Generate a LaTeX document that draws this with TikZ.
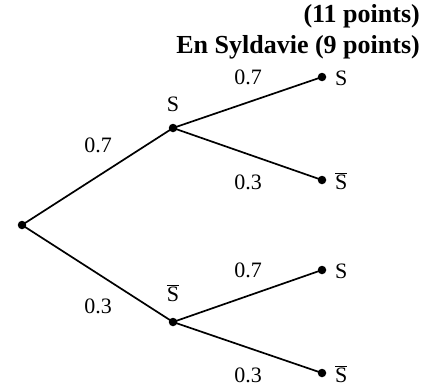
\documentclass[tikz,border=0pt]{standalone}
\usepackage{fontspec}
\setmainfont{Liberation Serif}
\begin{document}
\begin{tikzpicture}[x=1pt,y=-1pt,
  dot/.style={circle,fill=black,inner sep=0pt,minimum size=8.5pt},
  lbl/.style={font=\fontsize{22}{25}\selectfont,inner sep=0pt},
  ttl/.style={font=\fontsize{26}{29}\selectfont\bfseries,inner sep=0pt,anchor=east},
  edge/.style={line width=1.7pt}]
\useasboundingbox (0,0) rectangle (430,388);
\node[ttl] (t1) at (420,16) {(11 points)};
\node[ttl] (t2) at (420,47) {En Syldavie (9 points)};
\node[dot] (r) at (22,225) {};
\node[dot] (a) at (173,128) {};
\node[dot] (b) at (173,322) {};
\node[dot] (a1) at (322,77) {};
\node[dot] (a2) at (322,180) {};
\node[dot] (b1) at (322,270) {};
\node[dot] (b2) at (322,373) {};
\draw[edge] (r.center) -- (a.center);
\draw[edge] (r.center) -- (b.center);
\draw[edge] (a.center) -- (a1.center);
\draw[edge] (a.center) -- (a2.center);
\draw[edge] (b.center) -- (b1.center);
\draw[edge] (b.center) -- (b2.center);
\node[lbl] (la) at (173,104) {S};
\node[lbl] (lb) at (173,293) {$\overline{\mbox{S}}$};
\node[lbl,anchor=west] (la1) at (335,78) {S};
\node[lbl,anchor=west] (la2) at (335,181) {$\overline{\mbox{S}}$};
\node[lbl,anchor=west] (lb1) at (335,271) {S};
\node[lbl,anchor=west] (lb2) at (335,374) {$\overline{\mbox{S}}$};
\node[lbl] (p1) at (98,145) {0.7};
\node[lbl] (p2) at (98,306) {0.3};
\node[lbl] (p3) at (248,77) {0.7};
\node[lbl] (p4) at (248,182) {0.3};
\node[lbl] (p5) at (248,270) {0.7};
\node[lbl] (p6) at (248,375) {0.3};
\end{tikzpicture}
\end{document}
